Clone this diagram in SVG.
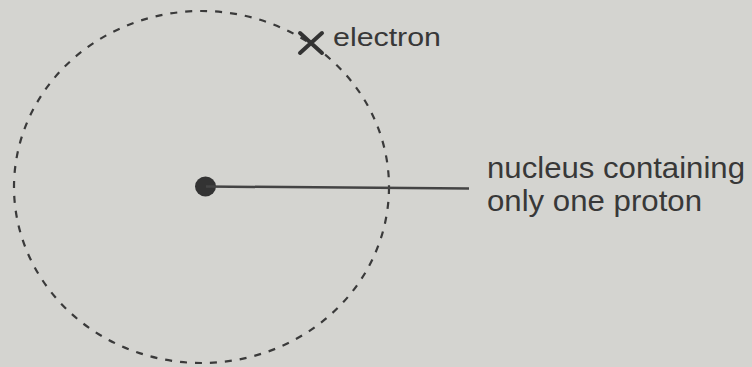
<svg xmlns="http://www.w3.org/2000/svg" width="752" height="367" viewBox="0 0 752 367">
<style>
.lbl{font-family:"Liberation Sans",Arial,sans-serif;fill:#383838}
.orbit{fill:none;stroke:#3a3a3a;stroke-width:2.2;stroke-dasharray:7 8}
</style>
<rect width="752" height="367" fill="#d4d4d0"/>
<g id="orbit"><ellipse class="orbit" cx="201.5" cy="187" rx="187.5" ry="176"/></g>
<g id="nucleus"><ellipse cx="205.5" cy="186.5" rx="10.5" ry="10" fill="#333"/></g>
<g id="electron">
<path d="M300 33 L322 53 M322 33 L300 53" stroke="#333" stroke-width="4" stroke-linecap="round"/>
<text class="lbl" x="333" y="46" font-size="26" textLength="108" lengthAdjust="spacingAndGlyphs">electron</text>
</g>
<g id="connectors"><line x1="206" y1="186.5" x2="469" y2="188.5" stroke="#444" stroke-width="2.5"/></g>
<g id="nucleus-label">
<text class="lbl" x="487" y="178" font-size="30" textLength="258" lengthAdjust="spacingAndGlyphs">nucleus containing</text>
<text class="lbl" x="487" y="211" font-size="30" textLength="215" lengthAdjust="spacingAndGlyphs">only one proton</text>
</g>
</svg>
